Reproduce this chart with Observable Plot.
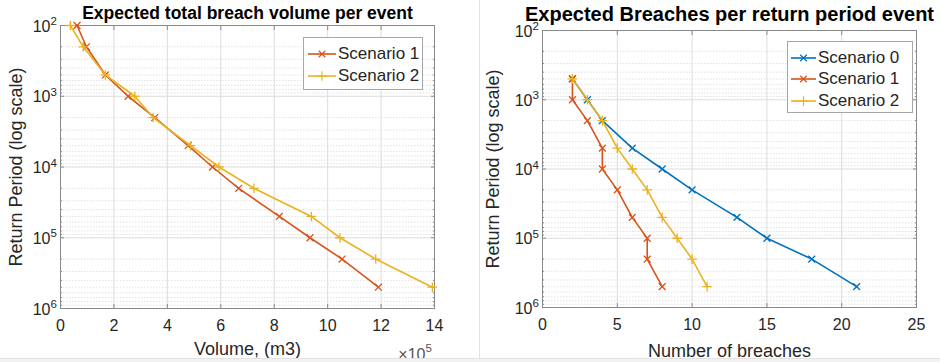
<!DOCTYPE html>
<html><head><meta charset="utf-8">
<script src="https://cdn.jsdelivr.net/npm/d3@7"></script>
<script src="https://cdn.jsdelivr.net/npm/@observablehq/plot@0.6"></script>
<style>
html,body{margin:0;padding:0;background:#fff;}
#wrap{position:relative;width:940px;height:362px;overflow:hidden;font-family:"Liberation Sans",Arial,sans-serif;color:#262626;background:#fff;}
#row{display:flex;}
#row svg{display:block;}
.legend{position:absolute;background:#fff;border:1px solid #a6a6a6;box-sizing:border-box;}
.legend .item{position:absolute;left:0;height:22px;display:flex;align-items:center;font-size:17px;white-space:nowrap;}
.legend .item svg{display:block;margin-right:2px;}
</style></head><body>
<div id="wrap"><div id="row"></div></div>
<script>
// ---- data ----
const scenarioNames = ["Scenario 0", "Scenario 1", "Scenario 2"];
const scenarioColors = ["#0072BD", "#D95319", "#EDB120"];
const scenarioSymbols = ["times", "times", "plus"];

const volumeReturnPeriods = [100, 200, 500, 1000, 2000, 5000, 10000, 20000, 50000, 100000, 200000, 500000];
const volumeScenario1 = [0.62, 0.97, 1.68, 2.53, 3.53, 4.78, 5.69, 6.67, 8.19, 9.34, 10.54, 11.9];   // x 10^5 m3
const volumeScenario2 = [0.37, 0.85, 1.68, 2.78, 3.47, 4.87, 5.93, 7.24, 9.39, 10.46, 11.8, 13.92];  // x 10^5 m3

const breachReturnPeriods = [500, 1000, 2000, 5000, 10000, 20000, 50000, 100000, 200000, 500000];
const breachesScenario0 = [2, 3, 4, 6, 8, 10, 13, 15, 18, 21];
const breachesScenario1 = [2, 2, 3, 4, 4, 5, 6, 7, 7, 8];
const breachesScenario2 = [2, 3, 4, 5, 6, 7, 8, 9, 10, 11];

const volumeTicks = [0, 2, 4, 6, 8, 10, 12, 14];
const breachTicks = [0, 5, 10, 15, 20, 25];
const periodTicks = [1e2, 1e3, 1e4, 1e5, 1e6];

const leftTitle = "Expected total breach volume per event";
const rightTitle = "Expected Breaches per return period event";
const yLabel = "Return Period (log scale)";
const leftXLabel = "Volume, (m3)";
const rightXLabel = "Number of breaches";
const leftXMultiplier = "×10";
const leftXExponent = "5";

// ---- helpers ----
const exponentOf = d => String(Math.round(Math.log10(d)));
const minorTicks = periodTicks.slice(0, -1).flatMap(p => d3.range(2, 10).map(k => p * k));

function series(periods, values, idx) {
  return periods.map((p, i) => ({period: p, value: values[i], name: scenarioNames[idx]}));
}

const font = '"Liberation Sans", Arial, sans-serif';
const tickOnly = {tickFormat: () => "", label: null, stroke: "#8a8a8a"};

function makePanel({width, margins, xDomain, xTicks, seriesList, title, titleSize, titleDy, xLabel, xLabelDy, yLabelDx, extra}) {
  const marks = [
    Plot.ruleY(minorTicks, {y: d => d, stroke: "#e2e2e2", strokeDasharray: "1.5,1.5"}),
    Plot.ruleY(periodTicks, {y: d => d, stroke: "#dcdcdc"}),
    Plot.ruleX(xTicks, {x: d => d, stroke: "#dcdcdc"}),
    Plot.frame({stroke: "#8a8a8a"}),
    // inward ticks
    Plot.axisX({ticks: xTicks, anchor: "bottom", tickSize: -4, ...tickOnly}),
    Plot.axisX({ticks: xTicks, anchor: "top", tickSize: -4, ...tickOnly}),
    Plot.axisY({ticks: periodTicks, anchor: "left", tickSize: -4, ...tickOnly}),
    Plot.axisY({ticks: periodTicks, anchor: "right", tickSize: -4, ...tickOnly}),
    Plot.axisY({ticks: minorTicks, anchor: "left", tickSize: -2, ...tickOnly}),
    Plot.axisY({ticks: minorTicks, anchor: "right", tickSize: -2, ...tickOnly}),
    // x tick labels
    Plot.axisX({ticks: xTicks, anchor: "bottom", tickSize: 0, tickPadding: 11, label: null, fill: "#262626", fontSize: 16}),
    // y tick labels as 10 with raised exponent
    Plot.text(periodTicks, {y: d => d, frameAnchor: "left", text: () => "10", textAnchor: "end", lineAnchor: "middle", dx: -10, dy: 1, fontSize: 16, fill: "#262626"}),
    Plot.text(periodTicks, {y: d => d, frameAnchor: "left", text: exponentOf, textAnchor: "start", lineAnchor: "middle", dx: -10, dy: -4, fontSize: 11.5, fill: "#262626"}),
  ];
  for (const s of seriesList) {
    marks.push(Plot.line(s.data, {x: "value", y: "period", stroke: s.color, strokeWidth: 1.6}));
    marks.push(Plot.dot(s.data, {x: "value", y: "period", stroke: s.color, symbol: s.symbol, r: 3.2, strokeWidth: 1.3}));
  }
  marks.push(Plot.text([title], {frameAnchor: "top", textAnchor: "middle", lineAnchor: "middle", dy: titleDy, fontWeight: "bold", fontSize: titleSize, fill: "#000"}));
  marks.push(Plot.text([xLabel], {frameAnchor: "bottom", textAnchor: "middle", lineAnchor: "middle", dy: xLabelDy, fontSize: 18, fill: "#262626"}));
  marks.push(Plot.text([yLabel], {frameAnchor: "left", textAnchor: "middle", lineAnchor: "middle", rotate: -90, dx: yLabelDx, fontSize: 18, fill: "#262626"}));
  if (extra) marks.push(...extra);
  return Plot.plot({
    width, height: 362,
    marginLeft: margins[0], marginRight: margins[1], marginTop: margins[2], marginBottom: margins[3],
    style: {fontFamily: font, fontSize: "16px", color: "#262626", background: "transparent", overflow: "visible"},
    x: {domain: xDomain, axis: null},
    y: {type: "log", domain: [1e2, 1e6], reverse: true, axis: null},
    marks
  });
}

const left = makePanel({
  width: 470, margins: [60, 36, 25, 54],
  xDomain: [0, 14], xTicks: volumeTicks,
  seriesList: [
    {data: series(volumeReturnPeriods, volumeScenario1, 1), color: scenarioColors[1], symbol: scenarioSymbols[1]},
    {data: series(volumeReturnPeriods, volumeScenario2, 2), color: scenarioColors[2], symbol: scenarioSymbols[2]},
  ],
  title: leftTitle, titleSize: 17.5, titleDy: -12,
  xLabel: leftXLabel, xLabelDy: 41, yLabelDx: -44,
  extra: [
    Plot.text([leftXMultiplier], {frameAnchor: "bottom-right", textAnchor: "end", lineAnchor: "middle", dy: 46, dx: -9, fontSize: 16, fill: "#555"}),
    Plot.text([leftXExponent], {frameAnchor: "bottom-right", textAnchor: "start", lineAnchor: "middle", dy: 40, dx: -9, fontSize: 11.5, fill: "#555"})
  ]
});

const right = makePanel({
  width: 470, margins: [72, 24, 30, 55],
  xDomain: [0, 25], xTicks: breachTicks,
  seriesList: [
    {data: series(breachReturnPeriods, breachesScenario0, 0), color: scenarioColors[0], symbol: scenarioSymbols[0]},
    {data: series(breachReturnPeriods, breachesScenario1, 1), color: scenarioColors[1], symbol: scenarioSymbols[1]},
    {data: series(breachReturnPeriods, breachesScenario2, 2), color: scenarioColors[2], symbol: scenarioSymbols[2]},
  ],
  title: rightTitle, titleSize: 20, titleDy: -16,
  xLabel: rightXLabel, xLabelDy: 44, yLabelDx: -49
});

const row = document.getElementById("row");
row.appendChild(left);
row.appendChild(right);

const wrap = document.getElementById("wrap");
// divider and bottom band
const divider = document.createElement("div");
divider.style.cssText = "position:absolute;left:479px;top:0;width:1px;height:358px;background:#e3e3e3;";
wrap.appendChild(divider);
const band = document.createElement("div");
band.style.cssText = "position:absolute;left:0;top:358px;width:940px;height:4px;background:#f2f2f2;border-top:1px solid #e3e3e3;";
wrap.appendChild(band);

function legend(box, idxs, rows, lineX, textX) {
  const el = document.createElement("div");
  el.className = "legend";
  el.style.left = box[0] + "px"; el.style.top = box[1] + "px";
  el.style.width = box[2] + "px"; el.style.height = box[3] + "px";
  idxs.forEach((idx, i) => {
    const item = document.createElement("div");
    item.className = "item";
    item.style.top = (rows[i] - 11) + "px";
    item.style.left = lineX + "px";
    const w = textX - lineX - 2;
    const sym = scenarioSymbols[idx] === "plus" ? d3.symbolPlus : d3.symbolTimes;
    const path = d3.symbol(sym, 30)();
    item.innerHTML = `<svg width="${w}" height="12"><line x1="0" x2="${w}" y1="6" y2="6" stroke="${scenarioColors[idx]}" stroke-width="1.6"/><path d="${path}" transform="translate(${w/2},6)" fill="none" stroke="${scenarioColors[idx]}" stroke-width="1.2"/></svg><span>${scenarioNames[idx]}</span>`;
    el.appendChild(item);
  });
  wrap.appendChild(el);
}
legend([303, 37, 120, 53], [1, 2], [16, 38], 4, 34);
legend([787, 41, 126, 72], [0, 1, 2], [16, 37, 59], 3, 30);
</script>
</body></html>
